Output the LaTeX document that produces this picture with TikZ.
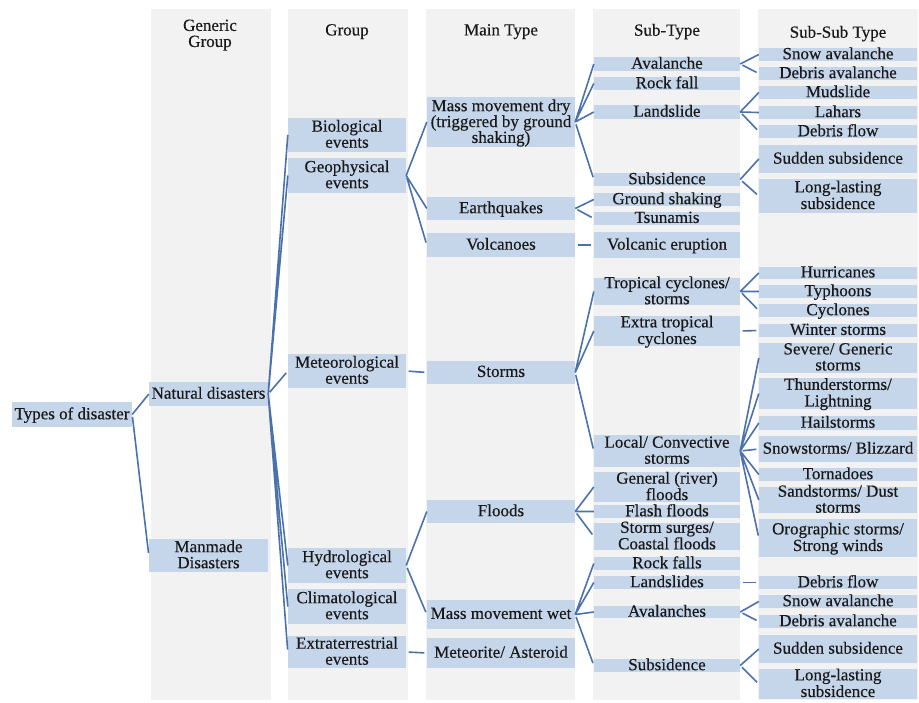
\documentclass[tikz,border=0pt]{standalone}
\usepackage{fontspec}
\setmainfont{Liberation Serif}[FakeBold=0.35]
\definecolor{colgrey}{RGB}{242,242,242}
\definecolor{boxblue}{RGB}{197,213,234}
\definecolor{linkblue}{RGB}{74,114,172}
\newcommand{\tx}[1]{\smash{\raisebox{-5.5pt}{\begin{tabular}{@{}c@{}}#1\end{tabular}}}}

\begin{document}
\begin{tikzpicture}[x=1pt, y=-1pt,
	box/.style={fill=boxblue, inner sep=0pt, text=black!90, font=\fontsize{17}{16}\selectfont},
	tight/.style={font=\fontsize{17}{13.5}\selectfont},
	snug/.style={font=\fontsize{17}{15}\selectfont},
	top/.style={box, minimum width=120pt},
	gen/.style={box, minimum width=119pt},
	grp/.style={box, minimum width=118pt},
	mtype/.style={box, minimum width=148pt},
	stype/.style={box, minimum width=146pt},
	sstype/.style={box, minimum width=158pt},
	hdr/.style={inner sep=0pt, text=black!90, font=\fontsize{17}{16}\selectfont},
	conn/.style={draw=linkblue, line width=1.6pt, shorten <=2.5pt, shorten >=2.5pt}]
\useasboundingbox (0,0) rectangle (919,702);
\fill[white] (0,0) rectangle (919,702);
\fill[colgrey] (151,9) rectangle (271,700);
\fill[colgrey] (288,9) rectangle (408,700);
\fill[colgrey] (426,9) rectangle (575,700);
\fill[colgrey] (593,9) rectangle (740,700);
\fill[colgrey] (758,9) rectangle (918,700);

\node[hdr] (hgen) at (210,34.5) {\tx{Generic\\Group}};
\node[hdr] (hgrp) at (347,31) {\tx{Group}};
\node[hdr] (hmain) at (501,31) {\tx{Main Type}};
\node[hdr] (hsub) at (667,31) {\tx{Sub-Type}};
\node[hdr] (hsubsub) at (838,33) {\tx{Sub-Sub Type}};

\node[top, minimum height=25pt] (types) at (72,414.5) {\tx{Types of disaster}};

\node[gen, minimum height=24pt] (natural) at (208.5,394) {\tx{Natural disasters}};
\node[gen, minimum height=33pt] (manmade) at (208.5,555.5) {\tx{Manmade\\Disasters}};

\node[grp, minimum height=34pt] (bio) at (347,135) {\tx{Biological\\events}};
\node[grp, minimum height=35pt] (geo) at (347,175.5) {\tx{Geophysical\\events}};
\node[grp, minimum height=34pt] (meteo) at (347,371) {\tx{Meteorological\\events}};
\node[grp, minimum height=35pt] (hydro) at (347,565.5) {\tx{Hydrological\\events}};
\node[grp, minimum height=35pt] (clima) at (347,606.5) {\tx{Climatological\\events}};
\node[grp, minimum height=32pt] (extra) at (347,652) {\tx{Extraterrestrial\\events}};

\node[mtype, tight, minimum height=50pt] (mmdry) at (501,122) {\tx{Mass movement dry\\(triggered by ground\\shaking)}};
\node[mtype, minimum height=23pt] (quake) at (501,208.5) {\tx{Earthquakes}};
\node[mtype, minimum height=24pt] (volc) at (501,245) {\tx{Volcanoes}};
\node[mtype, minimum height=23pt] (storms) at (501,372.5) {\tx{Storms}};
\node[mtype, minimum height=23pt] (floods) at (501,511.5) {\tx{Floods}};
\node[mtype, minimum height=29pt] (mmwet) at (501,614.5) {\tx{Mass movement wet}};
\node[mtype, minimum height=30pt] (meteor) at (501,653) {\tx{Meteorite/ Asteroid}};

\node[stype, minimum height=14pt] (aval) at (667,64) {\tx{Avalanche}};
\node[stype, minimum height=13pt] (rockfall) at (667,83.5) {\tx{Rock fall}};
\node[stype, minimum height=14pt] (landslide) at (667,112) {\tx{Landslide}};
\node[stype, minimum height=13pt] (subsdry) at (667,179.5) {\tx{Subsidence}};
\node[stype, minimum height=13pt] (shaking) at (667,199.5) {\tx{Ground shaking}};
\node[stype, minimum height=13pt] (tsunami) at (667,218.5) {\tx{Tsunamis}};
\node[stype, minimum height=26pt] (erupt) at (667,245) {\tx{Volcanic eruption}};
\node[stype, minimum height=27pt] (tropical) at (667,291.5) {\tx{Tropical cyclones/\\storms}};
\node[stype, minimum height=30pt] (extratrop) at (667,331) {\tx{Extra tropical\\cyclones}};
\node[stype, minimum height=32pt] (convect) at (667,451) {\tx{Local/ Convective\\storms}};
\node[stype, snug, minimum height=30pt] (river) at (667,487) {\tx{General (river)\\floods}};
\node[stype, minimum height=13pt] (flash) at (667,511.5) {\tx{Flash floods}};
\node[stype, snug, minimum height=27pt] (surge) at (667,536.5) {\tx{Storm surges/\\Coastal floods}};
\node[stype, minimum height=13pt] (rockfalls) at (667,563.5) {\tx{Rock falls}};
\node[stype, minimum height=13pt] (landslides) at (667,582.5) {\tx{Landslides}};
\node[stype, minimum height=12pt] (avals) at (667,612) {\tx{Avalanches}};
\node[stype, minimum height=13pt] (subswet) at (667,665.5) {\tx{Subsidence}};

\node[sstype, minimum height=13pt] (snowava) at (838,54.5) {\tx{Snow avalanche}};
\node[sstype, minimum height=13pt] (debrisava) at (838,73.5) {\tx{Debris avalanche}};
\node[sstype, minimum height=13pt] (mudslide) at (838,92.5) {\tx{Mudslide}};
\node[sstype, minimum height=13pt] (lahars) at (838,112.5) {\tx{Lahars}};
\node[sstype, minimum height=13pt] (debrisflow) at (838,131.5) {\tx{Debris flow}};
\node[sstype, minimum height=28pt] (sudden) at (838,159) {\tx{Sudden subsidence}};
\node[sstype, minimum height=34pt] (longlast) at (838,196) {\tx{Long-lasting\\subsidence}};
\node[sstype, minimum height=12pt] (hurric) at (838,273) {\tx{Hurricanes}};
\node[sstype, minimum height=13pt] (typhoon) at (838,291.5) {\tx{Typhoons}};
\node[sstype, minimum height=13pt] (cyclone) at (838,310.5) {\tx{Cyclones}};
\node[sstype, minimum height=13pt] (winter) at (838,330.5) {\tx{Winter storms}};
\node[sstype, minimum height=30pt] (severe) at (838,358) {\tx{Severe/ Generic\\storms}};
\node[sstype, minimum height=31pt] (thunder) at (838,393.5) {\tx{Thunderstorms/\\Lightning}};
\node[sstype, minimum height=14pt] (hail) at (838,423) {\tx{Hailstorms}};
\node[sstype, minimum height=26pt] (blizzard) at (838,449) {\tx{Snowstorms/ Blizzard}};
\node[sstype, minimum height=13pt] (tornado) at (838,474.5) {\tx{Tornadoes}};
\node[sstype, minimum height=26pt] (sand) at (838,500) {\tx{Sandstorms/ Dust\\storms}};
\node[sstype, minimum height=38pt] (orogr) at (838,538) {\tx{Orographic storms/\\Strong winds}};
\node[sstype, minimum height=13pt] (debrisflowb) at (838,582.5) {\tx{Debris flow}};
\node[sstype, minimum height=13pt] (snowavab) at (838,601.5) {\tx{Snow avalanche}};
\node[sstype, minimum height=13pt] (debrisavab) at (838,621.5) {\tx{Debris avalanche}};
\node[sstype, minimum height=28pt] (suddenb) at (838,649) {\tx{Sudden subsidence}};
\node[sstype, minimum height=30pt] (longlastb) at (838,684) {\tx{Long-lasting\\subsidence}};

	\draw[conn] (types.east) -- (natural.west) (types.east) -- (manmade.west);
	\draw[conn] (natural.east) -- (bio.west) (natural.east) -- (geo.west) (natural.east) -- (meteo.west);
	\draw[conn] (natural.east) -- (hydro.west) (natural.east) -- (clima.west) (natural.east) -- (extra.west);
	\draw[conn] (geo.east) -- (mmdry.west) (geo.east) -- (quake.west) (geo.east) -- (volc.west);
	\draw[conn] (meteo.east) -- (storms.west);
	\draw[conn] (hydro.east) -- (floods.west) (hydro.east) -- (mmwet.west);
	\draw[conn] (extra.east) -- (meteor.west);
	\draw[conn] (mmdry.east) -- (aval.west) (mmdry.east) -- (rockfall.west) (mmdry.east) -- (landslide.west) (mmdry.east) -- (subsdry.west);
	\draw[conn] (quake.east) -- (shaking.west) (quake.east) -- (tsunami.west);
	\draw[conn] (volc.east) -- (erupt.west);
	\draw[conn] (storms.east) -- (tropical.west) (storms.east) -- (extratrop.west) (storms.east) -- (convect.west);
	\draw[conn] (floods.east) -- (river.west) (floods.east) -- (flash.west) (floods.east) -- (surge.west);
	\draw[conn] (mmwet.east) -- (rockfalls.west) (mmwet.east) -- (landslides.west) (mmwet.east) -- (avals.west) (mmwet.east) -- (subswet.west);
	\draw[conn] (aval.east) -- (snowava.west) (aval.east) -- (debrisava.west);
	\draw[conn] (landslide.east) -- (mudslide.west) (landslide.east) -- (lahars.west) (landslide.east) -- (debrisflow.west);
	\draw[conn] (subsdry.east) -- (sudden.west) (subsdry.east) -- (longlast.west);
	\draw[conn] (tropical.east) -- (hurric.west) (tropical.east) -- (typhoon.west) (tropical.east) -- (cyclone.west);
	\draw[conn] (extratrop.east) -- (winter.west);
	\draw[conn] (convect.east) -- (severe.west) (convect.east) -- (thunder.west) (convect.east) -- (hail.west) (convect.east) -- (blizzard.west);
	\draw[conn] (convect.east) -- (tornado.west) (convect.east) -- (sand.west) (convect.east) -- (orogr.west);
	\draw[conn] (landslides.east) -- (debrisflowb.west);
	\draw[conn] (avals.east) -- (snowavab.west) (avals.east) -- (debrisavab.west);
	\draw[conn] (subswet.east) -- (suddenb.west) (subswet.east) -- (longlastb.west);
\end{tikzpicture}
\end{document}
